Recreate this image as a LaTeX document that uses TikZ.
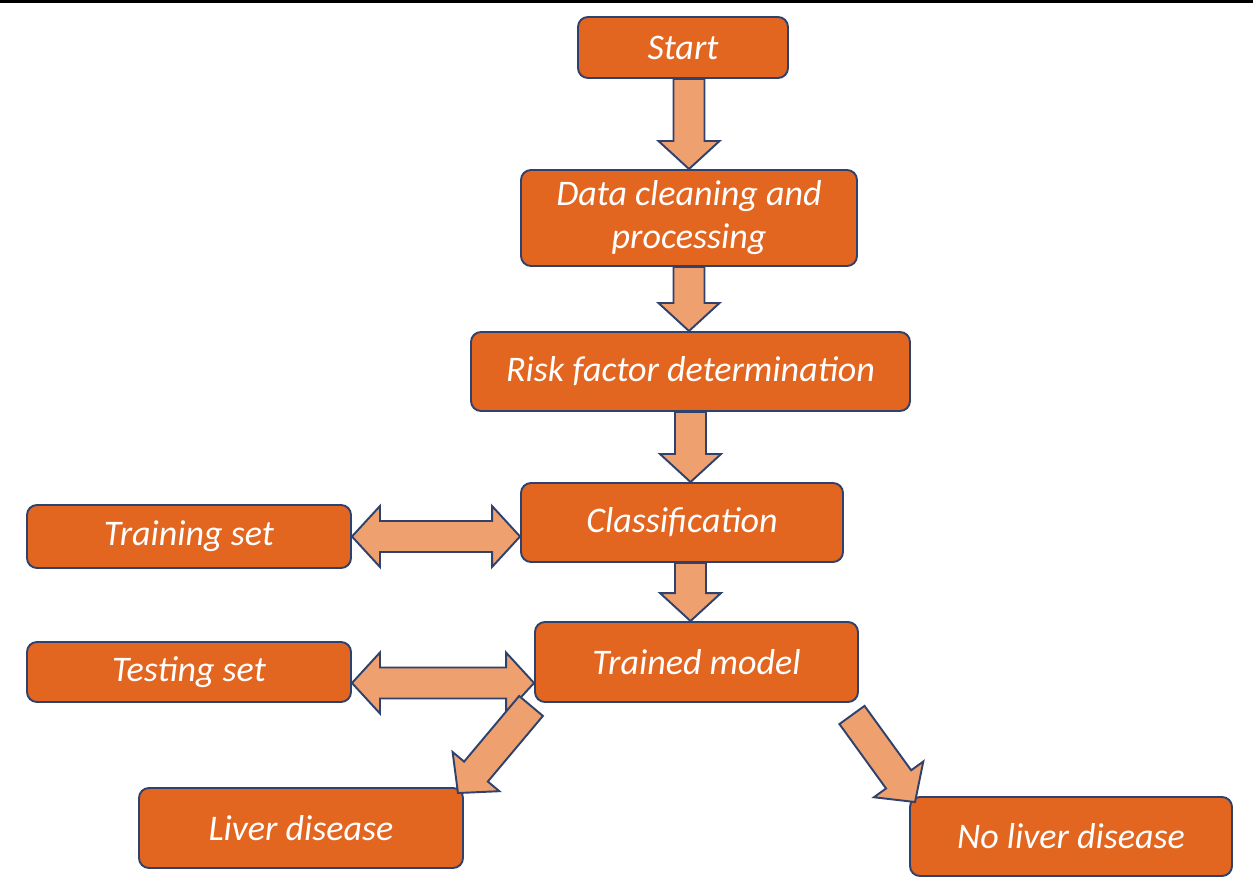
\documentclass[tikz,border=0pt]{standalone}
\usepackage{fontspec}
\setmainfont{Carlito}
\usetikzlibrary{calc}
\definecolor{boxorange}{RGB}{226,101,32}
\definecolor{arrorange}{RGB}{238,160,110}
\definecolor{edgeblue}{RGB}{47,66,110}
\def\sw{0.31cm}
\def\hw{0.61cm}
\def\hl{0.56cm}
\tikzset{
	box/.style={draw=edgeblue, line width=1.1pt, fill=boxorange, rounded corners=0.2cm, text=white, font=\fontsize{20.5}{24.5}\selectfont\itshape, align=center},
	blockarr/.style={draw=edgeblue, line width=1.1pt, fill=arrorange, line join=miter}
}
\newcommand{\blockarrow}[2]{% tail, tip
	\coordinate (ba-b) at ($(#2)!\hl!(#1)$);
	\draw[blockarr] ($(#1)!\sw!90:(#2)$) -- ($(ba-b)!\sw!90:(#2)$) -- ($(ba-b)!\hw!90:(#2)$) -- (#2) -- ($(ba-b)!\hw!-90:(#2)$) -- ($(ba-b)!\sw!-90:(#2)$) -- ($(#1)!\sw!-90:(#2)$) -- cycle;
}
\newcommand{\doublearrow}[2]{% left tip, right tip
	\coordinate (da-l) at ($(#1)!\hl!(#2)$);
	\coordinate (da-r) at ($(#2)!\hl!(#1)$);
	\draw[blockarr] (#1) -- ($(da-l)!\hw!90:(#2)$) -- ($(da-l)!\sw!90:(#2)$) -- ($(da-r)!\sw!-90:(#1)$) -- ($(da-r)!\hw!-90:(#1)$) -- (#2) -- ($(da-r)!\hw!90:(#1)$) -- ($(da-r)!\sw!90:(#1)$) -- ($(da-l)!\sw!-90:(#2)$) -- ($(da-l)!\hw!-90:(#2)$) -- cycle;
}

\begin{document}
\begin{tikzpicture}
		%%%%% START %%%%%
		\useasboundingbox (0, 0) rectangle (25.06, -17.82);
		\fill[black] (0, 0) rectangle (25.06, -0.06);
		
		\node[box, minimum width=4.2cm, minimum height=1.22cm] (start) at (13.66, -0.95) {Start};
		\node[box, minimum width=6.72cm, minimum height=1.92cm] (data) at (13.78, -4.36) {Data cleaning and\\processing};
		\node[box, minimum width=8.78cm, minimum height=1.58cm] (risk) at (13.81, -7.43) {Risk factor determination};
		\node[box, minimum width=6.44cm, minimum height=1.58cm] (class) at (13.64, -10.45) {Classification};
		\node[box, minimum width=6.48cm, minimum height=1.26cm] (training) at (3.78, -10.73) {Training set};
		\node[box, minimum width=6.46cm, minimum height=1.6cm] (trained) at (13.93, -13.24) {Trained model};
		\node[box, minimum width=6.48cm, minimum height=1.2cm] (testing) at (3.78, -13.44) {Testing set};
		\node[box, minimum width=6.48cm, minimum height=1.6cm] (liver) at (6.02, -16.56) {Liver disease};
		\node[box, minimum width=6.44cm, minimum height=1.58cm] (noliver) at (21.42, -16.73) {No liver disease};
		
		% down the middle
		\blockarrow{start.south -| data.north}{data.north}
		\blockarrow{data.south}{data.south |- risk.north}
		\blockarrow{risk.south}{risk.south |- class.north}
		\blockarrow{class.south -| risk.south}{trained.north -| risk.south}
		
		% sets
		\coordinate (trainend) at (training.east -| class.west);
		\doublearrow{training.east}{trainend}
		\coordinate (testbeg) at ([yshift=-0.22cm]testing.east);
		\coordinate (testend) at (testbeg -| trained.west);
		\doublearrow{testbeg}{testend}
		
		% outcomes
		\coordinate (lefttail) at ([shift={(-0.06, -0.06)}]trained.south west);
		\coordinate (lefttip) at ([shift={(-0.12, -0.12)}]liver.north east);
		\blockarrow{lefttail}{lefttip}
		\coordinate (righttail) at ([shift={(-0.14, -0.24)}]trained.south east);
		\coordinate (righttip) at ([shift={(0.12, -0.12)}]noliver.north west);
		\blockarrow{righttail}{righttip}
		
		%%%%% END %%%%%
	\end{tikzpicture}
\end{document}
